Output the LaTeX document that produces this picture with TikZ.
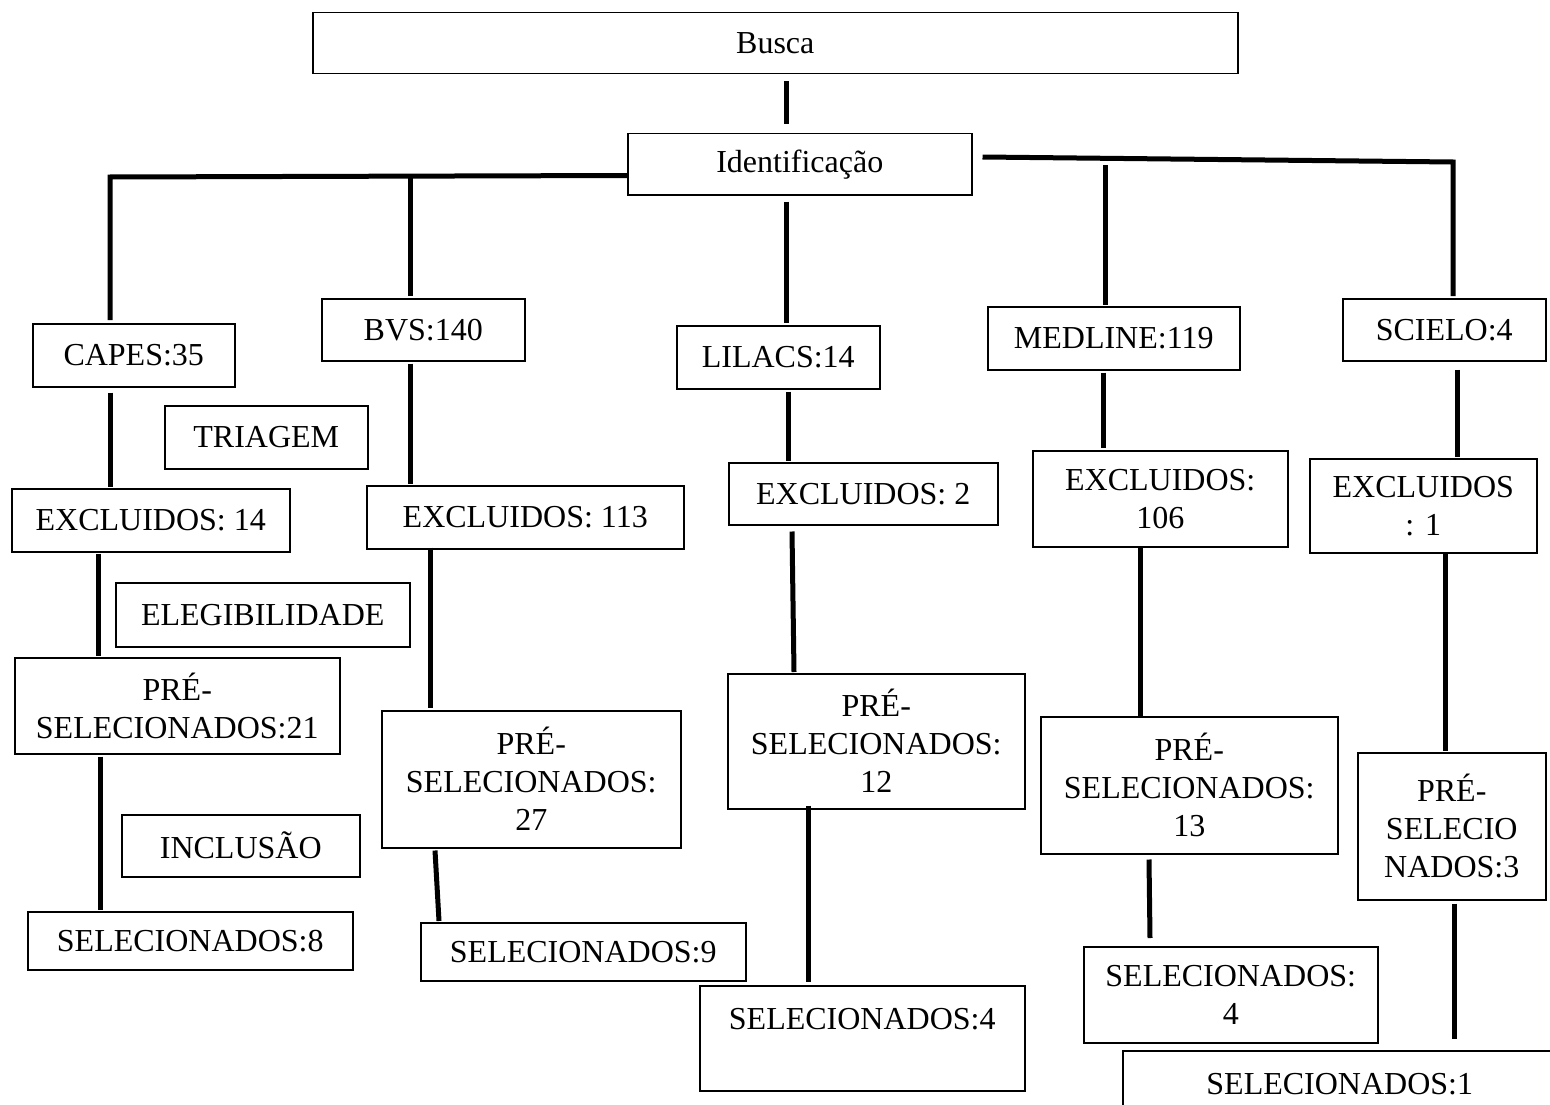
\documentclass[tikz,border=0pt]{standalone}
\usepackage{fontspec}
\setmainfont{Liberation Serif}
\usepackage{tikz}
\usetikzlibrary{calc}

\begin{document}
\begin{tikzpicture}[x=1pt, y=-1pt,
    box/.style={draw, line width=1.5pt, anchor=north west, inner sep=0pt, align=center,
                font=\fontsize{32}{38}\selectfont},
    link/.style={line width=5pt}]
    \useasboundingbox (0,0) rectangle (1550,1105);
    \clip (0,0) rectangle (1550,1105);

    % the top of the tree
    \node[box, minimum width=925, minimum height=61] (busca) at (312,12) {Busca};
    \node[box, minimum width=344, minimum height=61] (ident) at (627,133) {Identificação};

    % the data bases
    \node[box, minimum width=202, minimum height=63] (capes) at (32,323) {CAPES:35};
    \node[box, minimum width=203, minimum height=62] (bvs) at (321,298) {BVS:140};
    \node[box, minimum width=203, minimum height=63] (lilacs) at (676,325) {LILACS:14};
    \node[box, minimum width=252, minimum height=63] (medline) at (987,306) {MEDLINE:119};
    \node[box, minimum width=203, minimum height=62] (scielo) at (1342,298) {SCIELO:4};

    % the names of the steps
    \node[box, minimum width=203, minimum height=63] (triagem) at (164,405) {TRIAGEM};
    \node[box, minimum width=294, minimum height=64] (elegib) at (115,582) {ELEGIBILIDADE};
    \node[box, minimum width=238, minimum height=62] (inclusao) at (121,814) {INCLUSÃO};

    % excluded
    \node[box, minimum width=278, minimum height=63] (excapes) at (11,488) {EXCLUIDOS: 14};
    \node[box, minimum width=317, minimum height=63] (exbvs) at (366,485) {EXCLUIDOS: 113};
    \node[box, minimum width=269, minimum height=62] (exlilacs) at (728,462) {EXCLUIDOS: 2};
    \node[box, minimum width=255, minimum height=96] (exmedline) at (1032,450) {EXCLUIDOS:\\106};
    \node[box, minimum width=227, minimum height=94] (exscielo) at (1309,458) {EXCLUIDOS\\: 1};

    % pre-selected
    \node[box, minimum width=325, minimum height=96] (precapes) at (14,657) {PRÉ-\\SELECIONADOS:21};
    \node[box, minimum width=299, minimum height=137] (prebvs) at (381,710) {PRÉ-\\SELECIONADOS:\\27};
    \node[box, minimum width=297, minimum height=135] (prelilacs) at (727,673) {PRÉ-\\SELECIONADOS:\\12};
    \node[box, minimum width=297, minimum height=137] (premedline) at (1040,716) {PRÉ-\\SELECIONADOS:\\13};
    \node[box, minimum width=188, minimum height=147] (prescielo) at (1357,752) {PRÉ-\\SELECIO\\NADOS:3};

    % selected
    \node[box, minimum width=325, minimum height=58] (selcapes) at (27,911) {SELECIONADOS:8};
    \node[box, minimum width=325, minimum height=58] (selbvs) at (420,922) {SELECIONADOS:9};
    \node[box, minimum width=325, minimum height=105] (sellilacs) at (699,985) {SELECIONADOS:4\\\mbox{}};
    \node[box, minimum width=294, minimum height=96] (selmedline) at (1083,946) {SELECIONADOS:\\4};
    \node[box, minimum width=434, minimum height=66] (selscielo) at (1122,1050) {SELECIONADOS:1};

    % the lines from the top
    \draw[link] ($(busca.south west)+(474,7)$) -- ($(ident.north west)+(159,-9)$);
    \draw[link] ($(ident.south west)+(0,-20)$) -- ($(capes.north west)+(78,-146)$)
        -- ($(capes.north west)+(78,-3)$);
    \draw[link] ($(bvs.north west)+(89,-122)$) -- ($(bvs.north west)+(89,-2)$);
    \draw[link] ($(ident.north east)+(10,24)$) -- ($(scielo.north west)+(111,-136)$)
        -- ($(scielo.north west)+(111,-2)$);
    \draw[link] ($(medline.north west)+(118,-141)$) -- ($(medline.north west)+(118,-1)$);
    \draw[link] ($(ident.south west)+(159,6)$) -- ($(lilacs.north west)+(110,-2)$);

    % CAPES
    \draw[link] ($(capes.south west)+(78,5)$) -- ($(excapes.north west)+(99,-1)$);
    \draw[link] ($(excapes.south west)+(87,1)$) -- ($(precapes.north west)+(84,-1)$);
    \draw[link] ($(precapes.south west)+(86,2)$) -- ($(selcapes.north west)+(73,-1)$);

    % BVS
    \draw[link] ($(bvs.south west)+(89,2)$) -- ($(exbvs.north west)+(44,-1)$);
    \draw[link] ($(exbvs.south west)+(64,-2)$) -- ($(prebvs.north west)+(49,-2)$);
    \draw[link] ($(prebvs.south west)+(54,2)$) -- ($(selbvs.north west)+(19,-1)$);

    % LILACS
    \draw[link] ($(lilacs.south west)+(112,2)$) -- ($(exlilacs.north west)+(60,-1)$);
    \draw[link] ($(exlilacs.south west)+(64,6)$) -- ($(prelilacs.north west)+(67,-1)$);
    \draw[link] ($(prelilacs.south west)+(81,-4)$) -- ($(sellilacs.north west)+(109,-3)$);

    % MEDLINE
    \draw[link] ($(medline.south west)+(116,2)$) -- ($(exmedline.north west)+(71,-2)$);
    \draw[link] ($(exmedline.south west)+(108,0)$) -- ($(premedline.north west)+(100,0)$);
    \draw[link] ($(premedline.south west)+(109,5)$) -- ($(selmedline.north west)+(67,-8)$);

    % SCIELO
    \draw[link] ($(scielo.south west)+(115,8)$) -- ($(exscielo.north west)+(148,-1)$);
    \draw[link] ($(exscielo.south west)+(136,0)$) -- ($(prescielo.north west)+(88,-1)$);
    \draw[link] ($(prescielo.south west)+(97,3)$) -- ($(selscielo.north west)+(332,-11)$);

\end{tikzpicture}
\end{document}
